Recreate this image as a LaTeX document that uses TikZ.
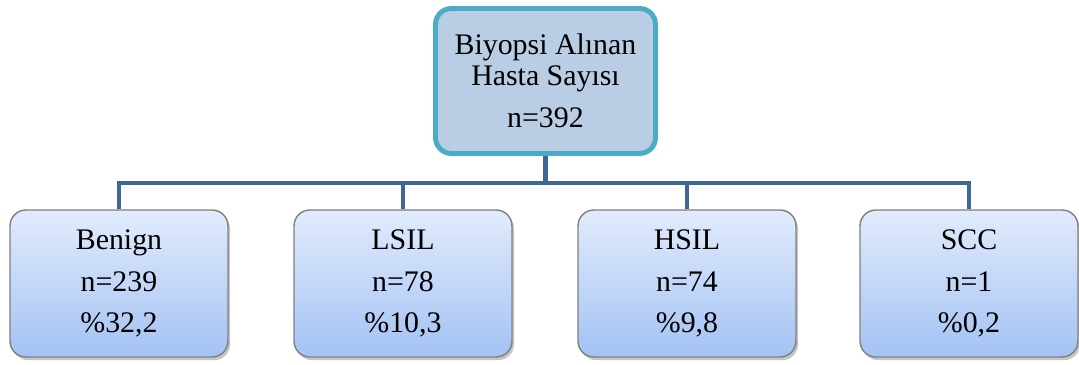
\documentclass[tikz,border=0pt]{standalone}
\usepackage{fontspec}
\setmainfont{Liberation Serif}
\usetikzlibrary{positioning,shadows}
\definecolor{rootfill}{HTML}{B9CDE5}
\definecolor{rootline}{HTML}{4BACC6}
\definecolor{leaftop}{HTML}{E1EBFC}
\definecolor{leafbottom}{HTML}{A4C2F4}
\definecolor{leafline}{HTML}{808080}
\definecolor{linkblue}{HTML}{3F6796}
\tikzset{
  root/.style={draw=rootline, line width=2.8pt, fill=rootfill, rounded corners=9pt,
    minimum width=4.4cm, minimum height=2.9cm, align=center, inner sep=0pt,
    font=\rmfamily\fontsize{17}{23.8}\selectfont},
  leaf/.style={draw=leafline, line width=0.8pt, top color=leaftop, bottom color=leafbottom,
    rounded corners=9pt, minimum width=4.36cm, minimum height=2.94cm, align=center,
    inner sep=0pt, font=\rmfamily\fontsize{17}{23.8}\selectfont,
    drop shadow={shadow xshift=1.2pt, shadow yshift=-1.8pt, opacity=0.45}},
  link/.style={draw=linkblue, line width=2.8pt, line join=miter}
}
\begin{document}
\begin{tikzpicture}[x=0.02cm,y=0.02cm]
	\useasboundingbox (0,0) rectangle (1079,365);
	% root
	\node[root] (root) at (545.5,284) {Biyopsi Alınan\\[-6.2pt]Hasta Sayısı\\n=392};
	% leaves
	\node[leaf] (benign) at (119,81.5) {Benign\\n=239\\\%32,2};
	\node[leaf] (lsil) at (403,81.5) {LSIL\\n=78\\\%10,3};
	\node[leaf] (hsil) at (687,81.5) {HSIL\\n=74\\\%9,8};
	\node[leaf] (scc) at (969,81.5) {SCC\\n=1\\\%0,2};
	% connectors
	\coordinate (bus) at (545.5,182);
	\draw[link] (root.south) -- (bus);
	\draw[link] (benign.north) |- (bus) -| (scc.north);
	\draw[link] (lsil.north) -- (lsil.north |- bus);
	\draw[link] (hsil.north) -- (hsil.north |- bus);
\end{tikzpicture}
\end{document}
